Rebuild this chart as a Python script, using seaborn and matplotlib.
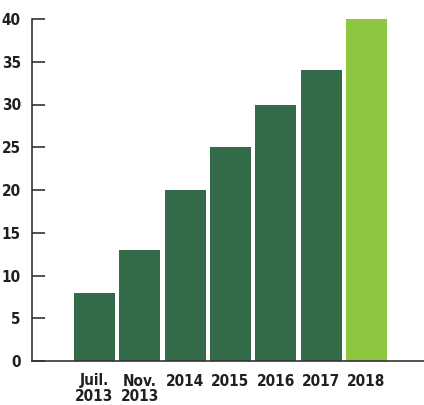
import pandas as pd
import numpy as np
import matplotlib
matplotlib.use('Agg')
import matplotlib.pyplot as plt
import seaborn as sns

# Data
categories = ['Juil.\n2013', 'Nov.\n2013', '2014', '2015', '2016', '2017', '2018']
values = [8, 13, 20, 25, 30, 34, 40]
colors = ['#336b48'] * 6 + ['#8dc63f']

sns.set_style('white')
plt.rcParams['font.family'] = ['DejaVu Sans']
plt.rcParams['font.stretch'] = 'condensed'

df = pd.DataFrame({'period': categories, 'value': values})

fig = plt.figure(figsize=(4.24, 4.05), dpi=100)
ax = fig.add_axes([32 / 424, 44 / 405, 392 / 424, 342 / 405])

sns.barplot(data=df, x='period', y='value', hue='period', palette=colors,
            legend=False, width=0.9, saturation=1, linewidth=0, ax=ax)

ax.set_xlim(-1.38, 7.27)
ax.set_ylim(0, 40)
ax.set_yticks(np.arange(0, 41, 5))
ax.set_xlabel('')
ax.set_ylabel('')

for s in ['top', 'right']:
    ax.spines[s].set_visible(False)
for s in ['left', 'bottom']:
    ax.spines[s].set_color('#333333')
    ax.spines[s].set_linewidth(1.2)

ax.tick_params(axis='y', direction='in', length=9, width=1.2, color='#333333',
               labelsize=11, labelcolor='#231f20', pad=8, left=True)
ax.tick_params(axis='x', length=0, labelsize=11, labelcolor='#231f20', pad=9)
for lab in ax.get_xticklabels() + ax.get_yticklabels():
    lab.set_fontweight('bold')
    lab.set_fontstretch('condensed')
for lab in ax.get_xticklabels():
    lab.set_linespacing(1.05)
    lab.set_verticalalignment('top')

fig.savefig('out.png', dpi=100)
